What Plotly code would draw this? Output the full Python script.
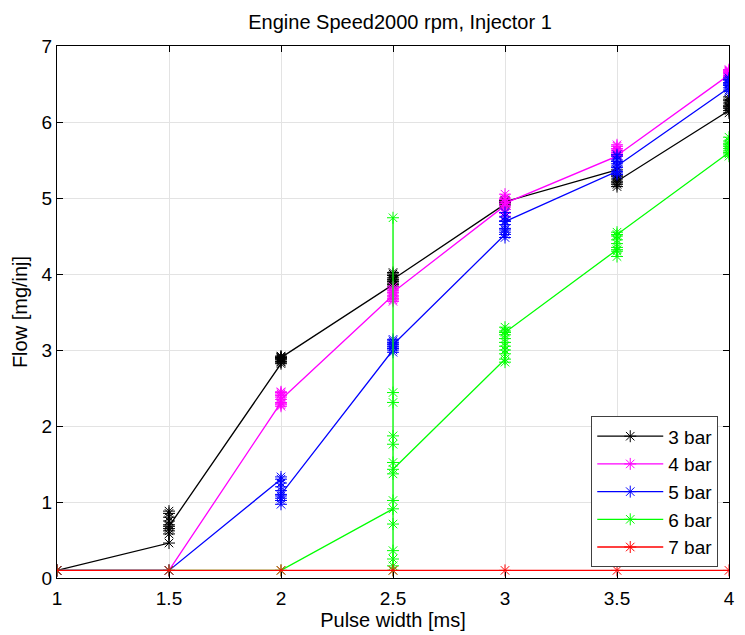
import plotly.graph_objects as go

pulse_widths = [1, 1.5, 2, 2.5, 3, 3.5, 4]
x_ticks = [1, 1.5, 2, 2.5, 3, 3.5, 4]
y_ticks = [0, 1, 2, 3, 4, 5, 6, 7]

# Flow samples [mg/inj] per pulse width (one list per pulse width), in measurement order
flow_3bar = [
    [0.1, 0.1],
    [0.46, 0.62, 0.75, 0.85, 0.88, 0.70, 0.58, 0.80, 0.65, 0.68],
    [2.82, 2.88, 2.92, 2.85, 2.90, 2.87, 2.84, 2.89, 2.91, 2.90],
    [3.86, 3.95, 4.00, 3.90, 3.84, 3.98, 3.92, 3.88, 4.02, 3.93],
    [4.92, 4.95, 4.90, 4.97, 4.94, 4.96, 4.93, 4.95],
    [5.37, 5.28, 5.20, 5.15, 5.25, 5.30, 5.18, 5.22],
    [6.15, 6.20, 6.28, 6.33, 6.12, 6.25, 6.22, 6.30, 6.18, 6.20],
]
flow_4bar = [
    [0.1],
    [0.1],
    [2.31, 2.45, 2.38, 2.26, 2.42, 2.30, 2.40, 2.28, 2.44, 2.35],
    [3.72, 3.64, 3.80, 3.83, 3.68, 3.75, 3.70, 3.78, 3.66, 3.76],
    [4.90, 4.98, 5.05, 4.80, 4.76, 4.95, 4.85, 5.00, 4.88, 4.93],
    [5.55, 5.60, 5.70, 5.65, 5.57, 5.62, 5.68, 5.58, 5.63, 5.56],
    [6.62, 6.69, 6.60, 6.66, 6.59, 6.64, 6.68, 6.61, 6.67, 6.65],
]
flow_5bar = [
    [0.1],
    [0.1],
    [1.30, 1.33, 1.05, 0.97, 1.20, 1.15, 1.02, 1.25, 1.08, 1.10],
    [3.00, 3.10, 3.14, 2.97, 3.05, 3.12, 3.02, 3.08, 3.04, 3.07],
    [4.52, 4.60, 4.81, 4.70, 4.48, 4.65, 4.55, 4.75, 4.58, 4.69],
    [5.35, 5.45, 5.57, 5.31, 5.50, 5.40, 5.55, 5.33, 5.48, 5.42],
    [6.45, 6.50, 6.58, 6.40, 6.55, 6.42, 6.52, 6.48, 6.56, 6.50],
]
flow_6bar = [
    [0.1],
    [0.1],
    [0.1],
    [0.91, 0.10, 4.74, 0.16, 0.25, 0.36, 0.71, 1.02, 1.37, 1.52, 1.76, 1.87, 2.31, 2.44, 1.43],
    [2.88, 3.00, 3.30, 2.84, 3.15, 3.05, 3.25, 2.95, 3.10, 3.20, 3.23],
    [4.32, 4.23, 4.40, 4.55, 4.30, 4.45, 4.35, 4.50, 4.52],
    [5.60, 5.75, 5.55, 5.80, 5.65, 5.70, 5.58, 5.72, 5.68, 5.62],
]
flow_7bar = [[0.1], [0.1], [0.1], [0.1], [0.1], [0.1], [0.1]]

series_names = ["3 bar", "4 bar", "5 bar", "6 bar", "7 bar"]
series_flows = [flow_3bar, flow_4bar, flow_5bar, flow_6bar, flow_7bar]
series_colors = ["#000000", "#ff00ff", "#0000ff", "#00ff00", "#ff0000"]

fig = go.Figure()
for name, flows, color in zip(series_names, series_flows, series_colors):
    xs, ys = [], []
    for pw, samples in zip(pulse_widths, flows):
        for v in samples:
            xs.append(pw)
            ys.append(v)
    fig.add_trace(go.Scatter(
        x=xs, y=ys, name=name, mode="lines+markers",
        line=dict(color=color, width=1.3, simplify=False),
        marker=dict(symbol="asterisk-open", size=10, color=color,
                    line=dict(color=color, width=1)),
    ))

font_family = "Liberation Sans, Arial, sans-serif"
fig.update_layout(
    width=745, height=635,
    margin=dict(l=57, r=10, t=46, b=56),
    paper_bgcolor="white", plot_bgcolor="white",
    font=dict(family=font_family, size=19, color="black"),
    title=dict(text="Engine Speed2000 rpm, Injector 1", x=0.537, xanchor="center",
               y=0.966, yanchor="middle", font=dict(size=20)),
    showlegend=True,
    legend=dict(x=0.984, xanchor="right", y=0.02, yanchor="bottom",
                bgcolor="white", bordercolor="#404040", borderwidth=1,
                font=dict(size=19), itemwidth=66, tracegroupgap=0),
)
fig.update_xaxes(
    range=[1, 4], tickvals=x_ticks, ticktext=[f"{v:g}" for v in x_ticks],
    showgrid=True, gridcolor="#e3e3e3", gridwidth=1, zeroline=False,
    showline=True, linecolor="black", linewidth=1, mirror="ticks",
    ticks="inside", ticklen=6, tickcolor="black",
    tickfont=dict(size=19), ticklabelstandoff=3,
    title=dict(text="Pulse width [ms]", standoff=2, font=dict(size=20)),
)
fig.update_yaxes(
    range=[0, 7], tickvals=y_ticks,
    showgrid=True, gridcolor="#e3e3e3", gridwidth=1, zeroline=False,
    showline=True, linecolor="black", linewidth=1, mirror="ticks",
    ticks="inside", ticklen=6, tickcolor="black",
    tickfont=dict(size=19), ticklabelstandoff=0,
    title=dict(text="Flow [mg/inj]", standoff=8, font=dict(size=20)),
)

fig.write_html("out.html")
